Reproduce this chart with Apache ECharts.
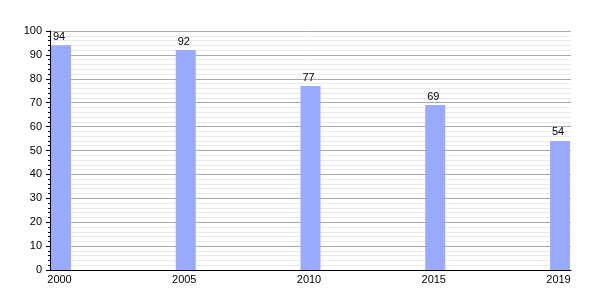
<!DOCTYPE html>
<html><head><meta charset="utf-8">
<script src="https://cdn.jsdelivr.net/npm/echarts@6/dist/echarts.min.js"></script>
<style>html,body{margin:0;padding:0;background:#fff}#c{width:600px;height:300px}</style>
</head><body><div id="c"></div>
<script>
var years = ['2000', '2005', '2010', '2015', '2019'];
var values = [94, 92, 77, 69, 54];
var yTicks = { min: 0, max: 100, interval: 10 };

var chart = echarts.init(document.getElementById('c'), null, { renderer: 'canvas' });
var font = 'Liberation Sans, Arial, sans-serif';
chart.setOption({
  animation: false,
  backgroundColor: '#fff',
  textStyle: { fontFamily: font },
  grid: [
    { left: 50, right: 29, top: 31, bottom: 30 },
    { left: 61, right: 40, top: 31, bottom: 30 }
  ],
  xAxis: [
    { gridIndex: 0, type: 'value', min: 0, max: 1,
      axisLine: { show: true, lineStyle: { color: '#000', width: 1 } },
      axisTick: { show: false }, axisLabel: { show: false }, splitLine: { show: false } },
    { gridIndex: 1, type: 'category', data: years, boundaryGap: false,
      axisLine: { show: false }, axisTick: { show: false },
      axisLabel: { interval: 0, color: '#000', fontSize: 11, fontFamily: font, margin: 4, padding: [0, 3, 0, 0] },
      splitLine: { show: false } }
  ],
  yAxis: [
    { gridIndex: 0, type: 'value', min: yTicks.min, max: yTicks.max, interval: yTicks.interval,
      axisLine: { show: true, lineStyle: { color: '#000', width: 1 } },
      axisTick: { show: true, length: 4, lineStyle: { color: '#000' } },
      minorTick: { show: true, splitNumber: 5, length: 2, lineStyle: { color: '#000' } },
      axisLabel: { color: '#000', fontSize: 11, fontFamily: font, margin: 8 },
      splitLine: { show: true, lineStyle: { color: '#aaaaaa', width: 1 } },
      minorSplitLine: { show: true, lineStyle: { color: '#eaeaea', width: 1 } } },
    { gridIndex: 1, type: 'value', min: yTicks.min, max: yTicks.max, show: false }
  ],
  series: [{
    type: 'bar', xAxisIndex: 1, yAxisIndex: 1, data: values, barWidth: 20,
    itemStyle: { color: '#99aaff' },
    label: { show: true, position: 'top', distance: 3, offset: [-2, 0], color: '#000', fontSize: 11, fontFamily: font }
  }]
});
</script></body></html>
